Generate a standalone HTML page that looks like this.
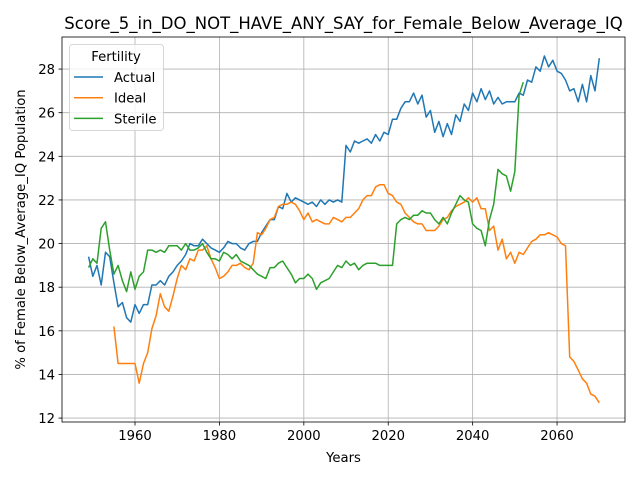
<!DOCTYPE html>
<html><head><meta charset="utf-8"><style>
body{margin:0;background:#fff;font-family:"Liberation Sans","DejaVu Sans",sans-serif}
svg text{font-family:"DejaVu Sans","Liberation Sans",sans-serif}
</style></head><body>
<svg id="chart" width="640" height="480" xmlns="http://www.w3.org/2000/svg">
<rect width="640" height="480" fill="#fff"/>
<g id="grid"></g><g id="series"></g><g id="axes"></g>
</svg>
<script>
const yearsActualStart = 1949;
const actualValues = [19.4,18.5,19.0,18.1,19.6,19.4,18.2,17.1,17.3,16.6,16.4,17.2,16.8,17.2,17.2,18.1,18.1,18.3,18.1,18.5,18.7,19.0,19.2,19.5,20.0,19.9,19.9,20.2,20.0,19.8,19.7,19.6,19.8,20.1,20.0,20.0,19.8,19.7,20.0,20.1,20.1,20.5,20.8,21.1,21.1,21.7,21.6,22.3,21.9,22.1,22.0,21.9,21.8,21.9,21.7,22.0,21.8,22.0,21.9,22.0,21.9,24.5,24.2,24.7,24.6,24.7,24.8,24.6,25.0,24.7,25.1,25.0,25.7,25.7,26.2,26.5,26.5,26.9,26.4,26.8,25.8,26.1,25.1,25.6,24.9,25.5,25.0,25.9,25.6,26.4,26.1,26.9,26.5,27.1,26.6,27.0,26.4,26.7,26.4,26.5,26.5,26.5,26.9,26.8,27.5,27.4,28.1,27.9,28.6,28.1,28.4,27.9,27.8,27.5,27.0,27.1,26.5,27.3,26.5,27.7,27.0,28.5];
const yearsIdealStart = 1955;
const idealValues = [16.2,14.5,14.5,14.5,14.5,14.5,13.6,14.5,15.0,16.1,16.7,17.7,17.1,16.9,17.6,18.4,19.0,18.8,19.3,19.2,19.7,19.7,19.9,19.3,18.9,18.4,18.5,18.7,19.0,19.0,19.1,18.9,18.8,19.1,20.5,20.4,20.7,21.1,21.2,21.7,21.8,21.8,21.9,21.8,21.5,21.1,21.4,21.0,21.1,21.0,20.9,20.9,21.2,21.1,21.0,21.2,21.2,21.4,21.6,22.0,22.2,22.2,22.6,22.7,22.7,22.3,22.2,21.9,21.8,21.4,21.2,21.0,20.9,20.9,20.6,20.6,20.6,20.8,21.1,21.2,21.5,21.7,21.8,21.9,22.1,21.9,22.1,21.6,21.6,20.6,20.8,19.7,20.2,19.3,19.6,19.1,19.6,19.5,19.8,20.1,20.2,20.4,20.4,20.5,20.4,20.3,20.0,19.9,14.8,14.6,14.2,13.8,13.6,13.1,13.0,12.7];
const yearsSterileStart = 1949;
const sterileValues = [18.9,19.3,19.1,20.7,21.0,19.7,18.6,19.0,18.3,17.8,18.7,17.9,18.5,18.7,19.7,19.7,19.6,19.7,19.6,19.9,19.9,19.9,19.7,20.0,19.7,19.7,19.8,20.0,19.6,19.3,19.3,19.2,19.6,19.5,19.3,19.5,19.2,19.1,19.0,18.8,18.6,18.5,18.4,18.9,18.9,19.1,19.2,18.9,18.6,18.2,18.4,18.4,18.6,18.4,17.9,18.2,18.3,18.4,18.7,19.0,18.9,19.2,19.0,19.1,18.8,19.0,19.1,19.1,19.1,19.0,19.0,19.0,19.0,20.9,21.1,21.2,21.1,21.3,21.3,21.5,21.4,21.4,21.1,20.9,21.2,20.9,21.4,21.8,22.2,22.0,21.9,20.9,20.7,20.6,19.9,21.1,21.8,23.4,23.2,23.1,22.4,23.3,26.8,27.4];
const xTicks = [1960,1980,2000,2020,2040,2060];
const yTicks = [12,14,16,18,20,22,24,26,28];

const L=62,R=625,T=37,B=422;
const X0=1942.7,X1=2076.1,Y0=11.82,Y1=29.47;
const sx=v=>L+(v-X0)/(X1-X0)*(R-L);
const sy=v=>B-(v-Y0)/(Y1-Y0)*(B-T);
const NS="http://www.w3.org/2000/svg";
function mk(tag,attrs,parent,text){const e=document.createElementNS(NS,tag);for(const k in attrs)e.setAttribute(k,attrs[k]);if(text!==undefined)e.textContent=text;parent.appendChild(e);return e;}
const grid=document.getElementById('grid'),axes=document.getElementById('axes'),ser=document.getElementById('series'),svg=document.getElementById('chart');
xTicks.forEach(t=>{const x=sx(t);
 const g=mk('line',{x1:x,x2:x,y1:T,y2:B,stroke:'#b0b0b0','stroke-width':0.8},grid);
 
 
 mk('line',{x1:x,x2:x,y1:B,y2:B+3.5,stroke:'#000','stroke-width':0.8},axes);
 const l=mk('text',{x:x,y:B+18,'text-anchor':'middle','font-size':13.2},axes,t);
 
 
});
yTicks.forEach(t=>{const y=sy(t);
 const g=mk('line',{x1:L,x2:R,y1:y,y2:y,stroke:'#b0b0b0','stroke-width':0.8},grid);
 
 
 mk('line',{x1:L-3.5,x2:L,y1:y,y2:y,stroke:'#000','stroke-width':0.8},axes);
 const l=mk('text',{x:L-7,y:y+5,'text-anchor':'end','font-size':13.2},axes,t);
 
 
});
const frame=mk('rect',{x:L,y:T,width:R-L,height:B-T,fill:'none',stroke:'#000','stroke-width':0.8},axes);


function line(start,vals,color,name){
 const pts=vals.map((v,i)=>sx(start+i).toFixed(1)+','+sy(v).toFixed(1)).join(' ');
 const p=mk('polyline',{points:pts,fill:'none',stroke:color,'stroke-width':1.5,'stroke-linejoin':'round'},ser);
 
 
}
line(yearsActualStart,actualValues,'#1f77b4','actual-line');
line(yearsIdealStart,idealValues,'#ff7f0e','ideal-line');
line(yearsSterileStart,sterileValues,'#2ca02c','sterile-line');
const title=mk('text',{x:(L+R)/2,y:T-8,'text-anchor':'middle','font-size':16.5},svg,'Score_5_in_DO_NOT_HAVE_ANY_SAY_for_Female_Below_Average_IQ');


const xt=mk('text',{x:(L+R)/2,y:462,'text-anchor':'middle','font-size':13.2},svg,'Years');


const yt=mk('text',{x:0,y:0,'text-anchor':'middle','font-size':13.2,transform:`translate(25,${(T+B)/2}) rotate(-90)`},svg,'% of Female Below_Average_IQ Population');


const leg=mk('g',{},svg);


mk('rect',{x:69.5,y:44.5,width:94,height:86,rx:3,fill:'#fff','fill-opacity':0.8,stroke:'#ccc','stroke-width':0.8},leg);
mk('text',{x:116,y:61,'text-anchor':'middle','font-size':13.2},leg,'Fertility');
[['Actual','#1f77b4'],['Ideal','#ff7f0e'],['Sterile','#2ca02c']].forEach((e,i)=>{
 const y=77+i*20.7;
 const g=mk('g',{},leg);
 
 
 mk('line',{x1:74,x2:103,y1:y,y2:y,stroke:e[1],'stroke-width':1.5},g);
 mk('text',{x:114,y:y+5,'font-size':13.2},g,e[0]);
});
</script>
</body></html>
